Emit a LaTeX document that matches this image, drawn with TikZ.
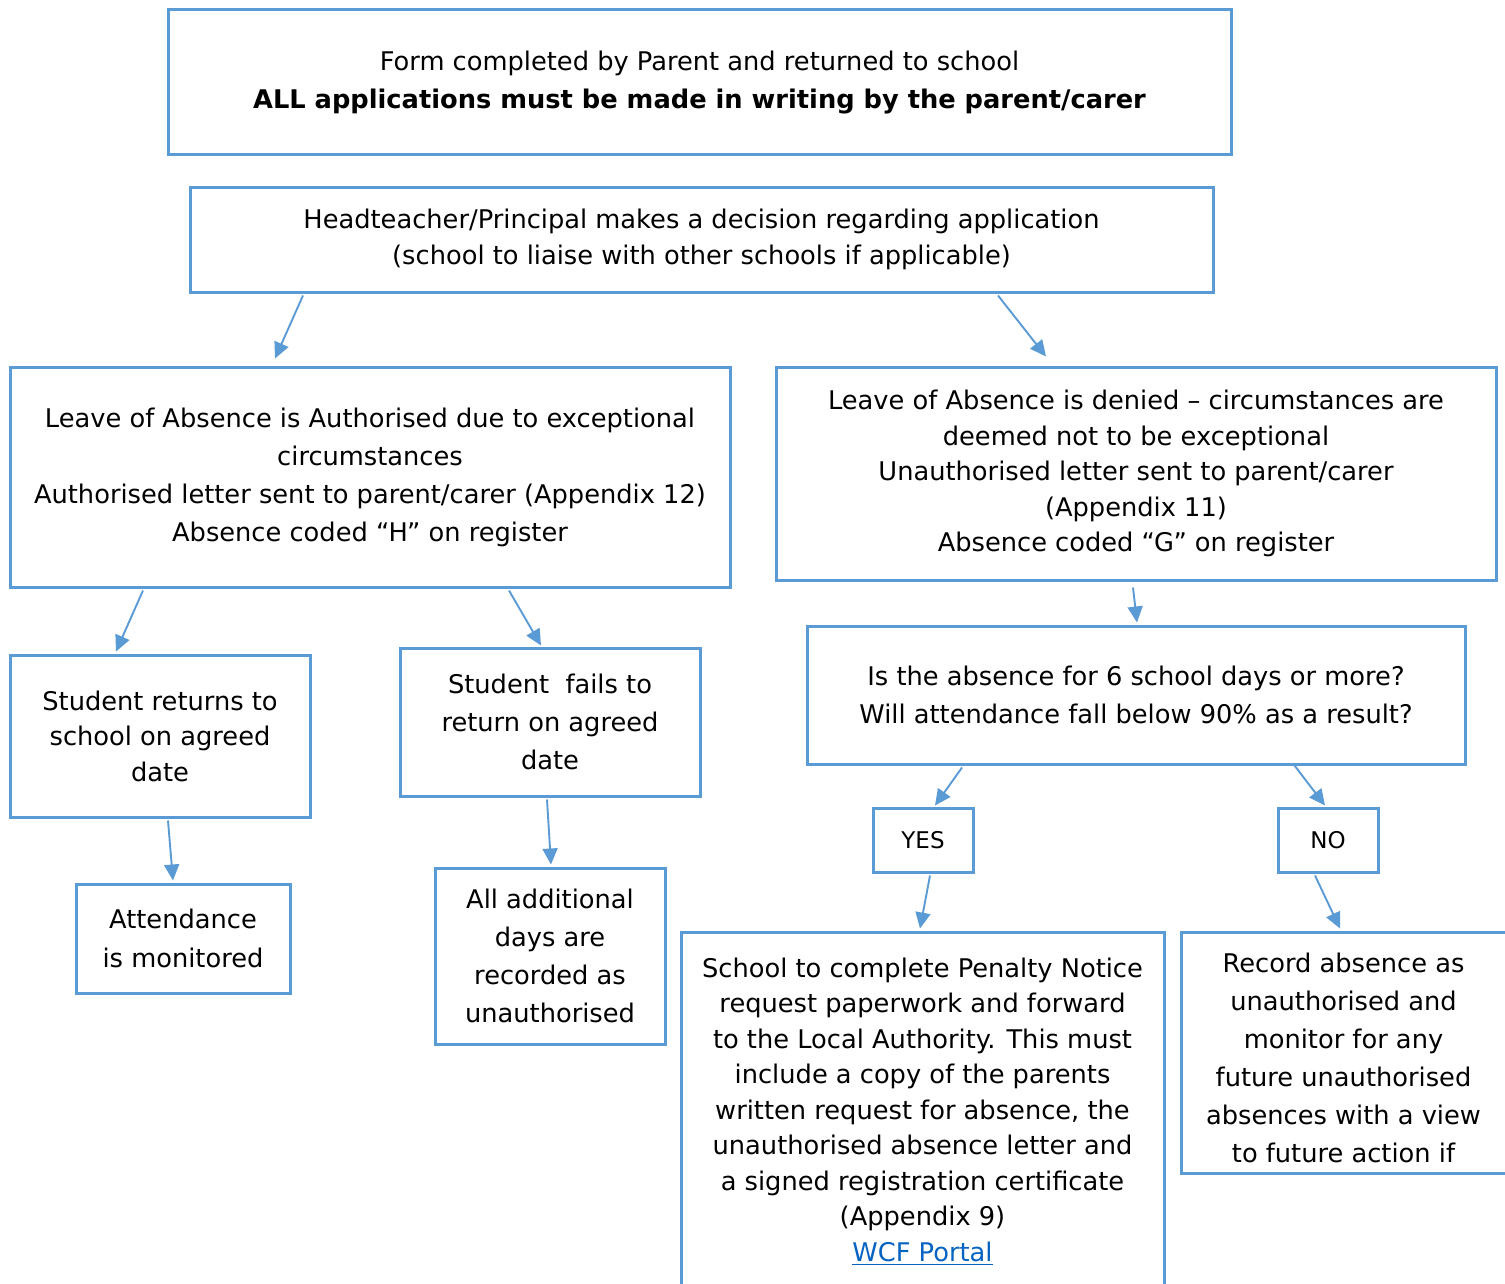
\documentclass[tikz,border=0pt]{standalone}
\usepackage{fontspec}
\setmainfont{DejaVu Sans}
\usetikzlibrary{arrows.meta,calc}
\definecolor{boxblue}{HTML}{5B9BD5}
\definecolor{linkblue}{HTML}{0563C1}
\begin{document}
\begin{tikzpicture}[x=0.5pt,y=-0.5pt,
  txt/.style={align=center,inner sep=2pt,font=\fontsize{12.85}{19}\selectfont},
  box/.style={txt,draw=boxblue,line width=1.5pt,rectangle},
  tight/.style={font=\fontsize{12.85}{17.75}\selectfont},
  arr/.style={draw=boxblue,line width=0.95pt,-{Triangle[length=8pt,width=7.5pt]}}]
\useasboundingbox[fill=white] (0,0) rectangle (1505,1284);

\node[box,minimum width=531.5pt,minimum height=72.5pt] (top) at (699.5,82.5)
  {Form completed by Parent and returned to school\\ \textbf{ALL applications must be made in writing by the parent/carer}};
\node[box,minimum width=511.5pt,minimum height=52.5pt,font=\fontsize{12.85}{18}\selectfont] (head) at (701.5,239.5)
  {Headteacher/Principal makes a decision regarding application\\ (school to liaise with other schools if applicable)};
\node[box,minimum width=360pt,minimum height=110pt] (auth) at (370,477)
  {Leave of Absence is Authorised due to exceptional\\ circumstances\\ Authorised letter sent to parent/carer (Appendix 12)\\ Absence coded “H” on register};
\node[box,tight,minimum width=360pt,minimum height=106.5pt] (deny) at (1136,473.5)
  {Leave of Absence is denied – circumstances are\\ deemed not to be exceptional\\ Unauthorised letter sent to parent/carer\\ (Appendix 11)\\ Absence coded “G” on register};
\node[box,tight,minimum width=150pt,minimum height=81pt] (ret) at (160,736)
  {Student returns to\\ school on agreed\\ date};
\node[box,minimum width=150pt,minimum height=74pt] (fail) at (550,722)
  {Student\ \ fails to\\ return on agreed\\ date};
\node[box,font=\fontsize{12.85}{19.5}\selectfont,minimum width=107pt,minimum height=54.5pt] (att) at (183,938.5)
  {Attendance\\ is monitored};
\node[box,minimum width=115pt,minimum height=88pt] (add) at (550,956)
  {All additional\\ days are\\ recorded as\\ unauthorised};
\node[box,minimum width=329pt,minimum height=69pt] (isq) at (1136,695)
  {Is the absence for 6 school days or more?\\ Will attendance fall below 90\% as a result?};
\node[box,font=\fontsize{11.5}{14}\selectfont,minimum width=50pt,minimum height=32pt] (yes) at (923,840) {YES};
\node[box,font=\fontsize{11.5}{14}\selectfont,minimum width=50pt,minimum height=32pt] (no) at (1328,840) {NO};
\node[box,tight,minimum width=241.5pt,minimum height=179.5pt] (pen) at (922.5,1111.5)
  {School to complete Penalty Notice\\ request paperwork and forward\\ to the Local Authority. This must\\ include a copy of the parents\\ written request for absence, the\\ unauthorised absence letter and\\ a signed registration certificate\\ (Appendix 9)\\ \textcolor{linkblue}{\underline{WCF Portal}}};
\node[box,minimum width=163.5pt,minimum height=120.5pt] (rec) at (1344.5,1052.5) {};
\node[txt] (rectext) at ($(rec.center)+(-1,5.5)$)
  {Record absence as\\ unauthorised and\\ monitor for any\\ future unauthorised\\ absences with a view\\ to future action if};

\draw[arr] ($(head.south)+(-398.5,2)$) -- ($(auth.north)+(-95,-7)$);
\draw[arr] ($(head.south)+(296.5,2)$) -- ($(deny.north)+(-90,-9)$);
\draw[arr] ($(auth.south)+(-227,2)$) -- ($(ret.north)+(-44,-2)$);
\draw[arr] ($(auth.south)+(139,2)$) -- ($(fail.north)+(-9,-1)$);
\draw[arr] ($(deny.south)+(-3,6)$) -- ($(isq.north)+(1,-2)$);
\draw[arr] ($(ret.south)+(8,2)$) -- ($(att.north)+(-10,-2)$);
\draw[arr] ($(fail.south)+(-3,2)$) -- ($(add.north)+(1,-2)$);
\draw[arr] ($(isq.south)+(-174,2)$) -- ($(yes.north)+(12,-1)$);
\draw[arr] ($(isq.south)+(157,-2)$) -- ($(no.north)+(-3,-1)$);
\draw[arr] ($(yes.south)+(7,2)$) -- ($(pen.north)+(-2.5,-2)$);
\draw[arr] ($(no.south)+(-13,2)$) -- ($(rec.north)+(-4.5,-2)$);
\end{tikzpicture}
\end{document}
